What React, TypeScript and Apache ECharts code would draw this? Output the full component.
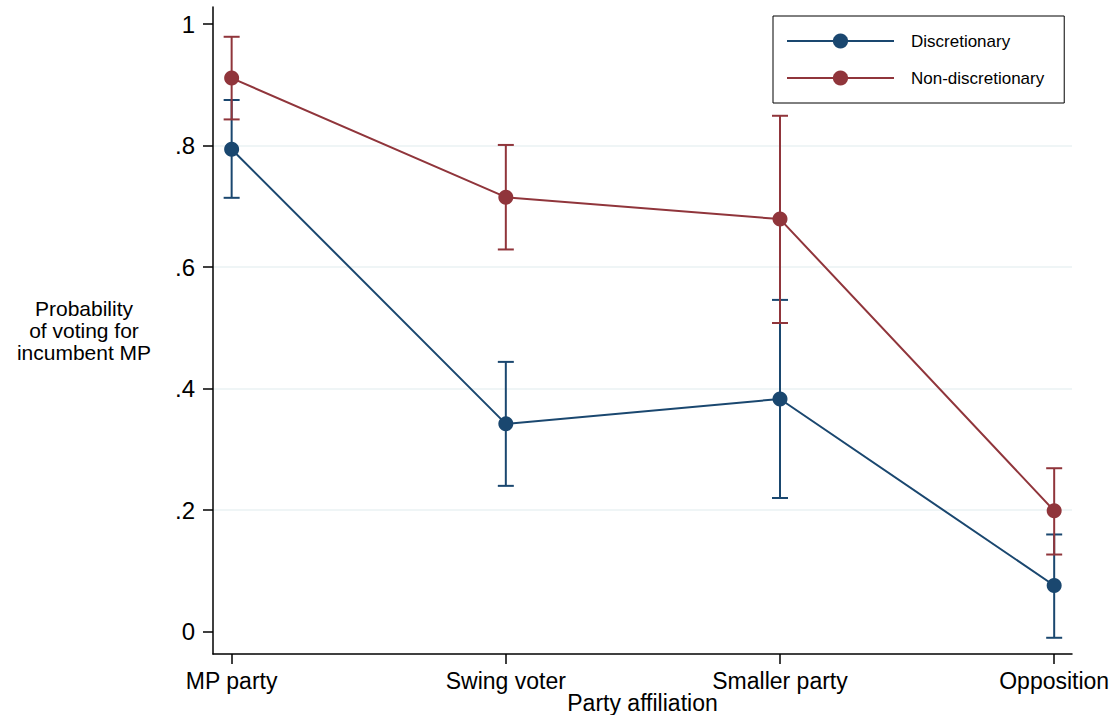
import React, { useEffect, useRef } from "react";
import * as echarts from "echarts";

// Predicted probability of voting for the incumbent MP, by party affiliation
const categories = ["MP party", "Swing voter", "Smaller party", "Opposition"];
const categoryPositions = [0, 1, 2, 3];

const discretionary = [0.794, 0.342, 0.383, 0.076];
const discretionaryLow = [0.714, 0.24, 0.22, -0.01];
const discretionaryHigh = [0.875, 0.444, 0.546, 0.16];

const nonDiscretionary = [0.911, 0.715, 0.679, 0.199];
const nonDiscretionaryLow = [0.843, 0.629, 0.508, 0.127];
const nonDiscretionaryHigh = [0.979, 0.801, 0.849, 0.269];

const yTicks = [0, 0.2, 0.4, 0.6, 0.8, 1];

const NAVY = "#1a476f";
const MAROON = "#90353b";
const FONT = "'Liberation Sans', Arial, Helvetica, sans-serif";

const fmtY = (v: number) => {
  if (v === 0) return "0";
  if (v === 1) return "1";
  return String(Number(v.toFixed(1))).replace(/^0/, "");
};

function errorBars(low: number[], high: number[], color: string) {
  return {
    type: "custom",
    silent: true,
    z: 2,
    renderItem: (_params: any, api: any) => {
      const x = api.value(0);
      const lo = api.coord([x, api.value(1)]);
      const hi = api.coord([x, api.value(2)]);
      const hw = 8;
      const style = { stroke: color, lineWidth: 2 };
      return {
        type: "group",
        children: [
          { type: "line", shape: { x1: lo[0], y1: lo[1], x2: hi[0], y2: hi[1] }, style },
          { type: "line", shape: { x1: lo[0] - hw, y1: lo[1], x2: lo[0] + hw, y2: lo[1] }, style },
          { type: "line", shape: { x1: hi[0] - hw, y1: hi[1], x2: hi[0] + hw, y2: hi[1] }, style },
        ],
      };
    },
    encode: { x: 0, y: [1, 2] },
    data: categoryPositions.map((p, i) => [p, low[i], high[i]]),
  };
}

function lineSeries(name: string, values: number[], color: string) {
  return {
    type: "line",
    name,
    z: 3,
    symbol: "circle",
    symbolSize: 15,
    lineStyle: { color, width: 2 },
    itemStyle: { color },
    data: categoryPositions.map((p, i) => [p, values[i]]),
  };
}

export default function App() {
  const ref = useRef<HTMLDivElement>(null);

  useEffect(() => {
    if (!ref.current) return;
    const chart = echarts.init(ref.current, undefined, { renderer: "svg" });
    chart.setOption({
      animation: false,
      backgroundColor: "#ffffff",
      textStyle: { fontFamily: FONT },
      grid: {
        left: 213,
        right: 37,
        top: 7,
        bottom: 61,
        containLabel: false,
        outerBoundsMode: "none",
      },
      xAxis: {
        type: "value",
        min: -0.068,
        max: 3.065,
        name: "Party affiliation",
        nameLocation: "middle",
        nameGap: 37,
        nameMoveOverlap: false,
        nameTextStyle: { fontSize: 23, color: "#000", fontFamily: FONT },
        axisLine: { show: true, onZero: false, lineStyle: { color: "#000", width: 1.5 } },
        axisTick: {
          show: true,
          length: 10,
          customValues: categoryPositions,
          lineStyle: { color: "#000", width: 1.5 },
        },
        axisLabel: {
          customValues: categoryPositions,
          formatter: (v: number) => categories[Math.round(v)] ?? "",
          fontSize: 23,
          color: "#000",
          margin: 15,
          fontFamily: FONT,
        },
        splitLine: { show: false },
      },
      yAxis: {
        type: "value",
        min: -0.0367,
        max: 1.028,
        splitNumber: 5,
        axisLine: { show: true, onZero: false, lineStyle: { color: "#000", width: 1.5 } },
        axisTick: {
          show: true,
          length: 10,
          customValues: yTicks,
          lineStyle: { color: "#000", width: 1.5 },
        },
        axisLabel: {
          customValues: yTicks,
          formatter: fmtY,
          fontSize: 24,
          color: "#000",
          margin: 18,
          fontFamily: FONT,
        },
        splitLine: {
          show: true,
          showMinLine: false,
          showMaxLine: false,
          lineStyle: { color: "#eaf2f3", width: 1.5 },
        },
      },
      legend: {
        show: true,
        orient: "vertical",
        left: 773,
        top: 16,
        data: ["Discretionary", "Non-discretionary"],
        itemWidth: 107,
        itemHeight: 19,
        itemGap: 20,
        padding: [16.5, 20, 16.5, 13],
        borderColor: "#000",
        borderWidth: 1,
        backgroundColor: "#fff",
        textStyle: { fontSize: 17, color: "#000", fontFamily: FONT, padding: [0, 0, 0, 12] },
      },
      graphic: [
        {
          type: "text",
          x: 84,
          y: 330,
          style: {
            text: "Probability\nof voting for\nincumbent MP",
            fill: "#000",
            font: `21px ${FONT}`,
            lineHeight: 22,
            textAlign: "center",
            textVerticalAlign: "middle",
          },
        },
      ],
      series: [
        errorBars(discretionaryLow, discretionaryHigh, NAVY),
        errorBars(nonDiscretionaryLow, nonDiscretionaryHigh, MAROON),
        lineSeries("Discretionary", discretionary, NAVY),
        lineSeries("Non-discretionary", nonDiscretionary, MAROON),
      ],
    });
    return () => chart.dispose();
  }, []);

  return (
    <div
      ref={ref}
      style={{ position: "absolute", left: 0, top: 0, width: 1109, height: 715 }}
    />
  );
}
